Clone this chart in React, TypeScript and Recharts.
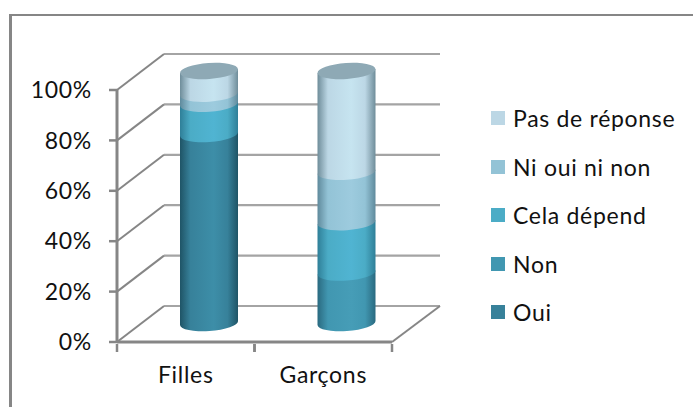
import React from 'react';
import { BarChart, Bar, XAxis, YAxis, CartesianGrid, Legend } from 'recharts';

const categories = ['Filles', 'Garçons'];
const seriesNames = ['Oui', 'Non', 'Cela dépend', 'Ni oui ni non', 'Pas de réponse'];
const oui = [75, 0];
const non = [0, 20];
const celaDepend = [12, 20];
const niOuiNiNon = [4, 20];
const pasDeReponse = [9, 40];
const yTicks = [0, 20, 40, 60, 80, 100];

const seriesValues = [oui, non, celaDepend, niOuiNiNon, pasDeReponse];
const legendColors = ['#37819a', '#4197b1', '#4bacc6', '#93c3d6', '#bcd7e5'];
const centerColors = ['#3d8ea8', '#469db7', '#50b4d2', '#9dcbde', '#c6e4f0'];
const edgeColors = ['#1f5466', '#2a6a80', '#2f7f98', '#5f8a9c', '#6f8d9a'];

const data = categories.map((name, i) => {
	const row: Record<string, any> = { name };
	seriesNames.forEach((s, j) => {
		row[s] = seriesValues[j][i];
	});
	return row;
});

// depth of the fake 3d box, and where the cylinders stand inside it
const WALL_DX = 47;
const WALL_DY = -36;
const BAR_DX = 23;
const BAR_DY = -19;
const RY = 8;
const TILT = 4;
const AXIS = '#868686';
const FONT = 'Lato, sans-serif';
const TEXT = { fontFamily: FONT, fontSize: 23, letterSpacing: 0.7 };

const cylinder = (idx: number, isTop: boolean) => (props: any) => {
	const { x, y, width, height } = props;
	if (!height || height <= 0) return <g />;
	const l = x + BAR_DX;
	const r = l + width;
	const t = y + BAR_DY;
	const b = t + height;
	const rx = width / 2;
	const body =
		`M${l},${t + TILT / 2} L${r},${t - TILT / 2} L${r},${b - TILT / 2} ` +
		`A${rx},${RY} -4 0 1 ${l},${b + TILT / 2} Z`;
	return (
		<g>
			<path d={body} fill={`url(#cyl-${idx})`} />
			{isTop && (
				<ellipse
					cx={l + rx}
					cy={t}
					rx={rx}
					ry={RY}
					fill='#8ea9b5'
					transform={`rotate(-4 ${l + rx} ${t})`}
				/>
			)}
		</g>
	);
};

const wallLine = (props: any) => {
	const { x1, x2, y1, index } = props;
	return (
		<g key={`wall-${index}`}>
			<line x1={x1} y1={y1} x2={x1 + WALL_DX} y2={y1 + WALL_DY} stroke={AXIS} strokeWidth={2} />
			<line x1={x1 + WALL_DX} y1={y1 + WALL_DY} x2={x2 + WALL_DX + 1} y2={y1 + WALL_DY} stroke={AXIS} strokeWidth={2.2} opacity={0.75} />
			{y1 > 300 && (
				<line x1={x2} y1={y1} x2={x2 + WALL_DX + 1} y2={y1 + WALL_DY} stroke={AXIS} strokeWidth={2} />
			)}
		</g>
	);
};

const XTick = (props: any) => {
	const { x, y, payload } = props;
	const half = 137.5 / 2;
	return (
		<g>
			<line x1={x - half} y1={y - 6} x2={x - half} y2={y + 2} stroke={AXIS} strokeWidth={2.5} />
			<line x1={x + half} y1={y - 6} x2={x + half} y2={y + 2} stroke={AXIS} strokeWidth={2.5} />
			<text x={x} y={y + 33} textAnchor='middle' {...TEXT} fill='#111'>
				{payload.value}
			</text>
		</g>
	);
};

const LegendBox = (props: any) => {
	const items = [...seriesNames].reverse().map((name) => ({
		name,
		color: (props.payload || []).find((p: any) => p.value === name)?.color,
	}));
	return (
		<div style={{ ...TEXT, color: '#111' }}>
			{items.map((item) => (
				<div key={item.name} style={{ display: 'flex', alignItems: 'center', height: 48.5, whiteSpace: 'nowrap' }}>
					<span style={{ width: 14, height: 14, background: item.color, marginRight: 8, flex: 'none' }} />
					<span>{item.name}</span>
				</div>
			))}
		</div>
	);
};

export default function App() {
	return (
		<div style={{ position: 'absolute', left: 0, top: 0, width: 693, height: 407, background: '#fff', overflow: 'hidden' }}>
			<div style={{ position: 'absolute', left: 9, top: 14, width: 690, height: 400, borderLeft: `3px solid ${AXIS}`, borderTop: `2px solid ${AXIS}` }} />
			<div style={{ position: 'absolute', left: 0, top: 0 }}>
				<BarChart
					width={693}
					height={407}
					data={data}
					barSize={58}
					margin={{ left: 27, right: 301, top: 90, bottom: 5 }}
					style={{ overflow: 'visible' }}
				>
					<defs>
						{seriesNames.map((s, i) => (
							<linearGradient key={s} id={`cyl-${i}`} x1='0' y1='0' x2='1' y2='0'>
								<stop offset='0%' stopColor={edgeColors[i]} />
								<stop offset='18%' stopColor={legendColors[i]} />
								<stop offset='58%' stopColor={centerColors[i]} />
								<stop offset='82%' stopColor={legendColors[i]} />
								<stop offset='100%' stopColor={edgeColors[i]} />
							</linearGradient>
						))}
					</defs>
					<CartesianGrid horizontal={wallLine} vertical={false} />
					<XAxis
						dataKey='name'
						height={60}
						interval={0}
						tickLine={false}
						axisLine={{ stroke: AXIS, strokeWidth: 3 }}
						tick={<XTick />}
					/>
					<YAxis
						width={90}
						domain={[0, 100]}
						ticks={yTicks}
						interval={0}
						tickFormatter={(v) => `${v}%`}
						tickSize={8}
						tickMargin={17}
						tickLine={{ stroke: AXIS, strokeWidth: 2.5 }}
						axisLine={{ stroke: AXIS, strokeWidth: 3 }}
						tick={{ ...TEXT, fill: '#111' }}
					/>
					<Legend
						layout='horizontal'
						verticalAlign='middle'
						align='center'
						content={<LegendBox />}
						wrapperStyle={{ position: 'absolute', left: 491, top: 94, width: 200, height: 245 }}
					/>
					{seriesNames.map((s, i) => (
						<Bar
							key={s}
							dataKey={s}
							stackId='a'
							fill={legendColors[i]}
							isAnimationActive={false}
							shape={cylinder(i, i === seriesNames.length - 1)}
						/>
					))}
				</BarChart>
			</div>
		</div>
	);
}
